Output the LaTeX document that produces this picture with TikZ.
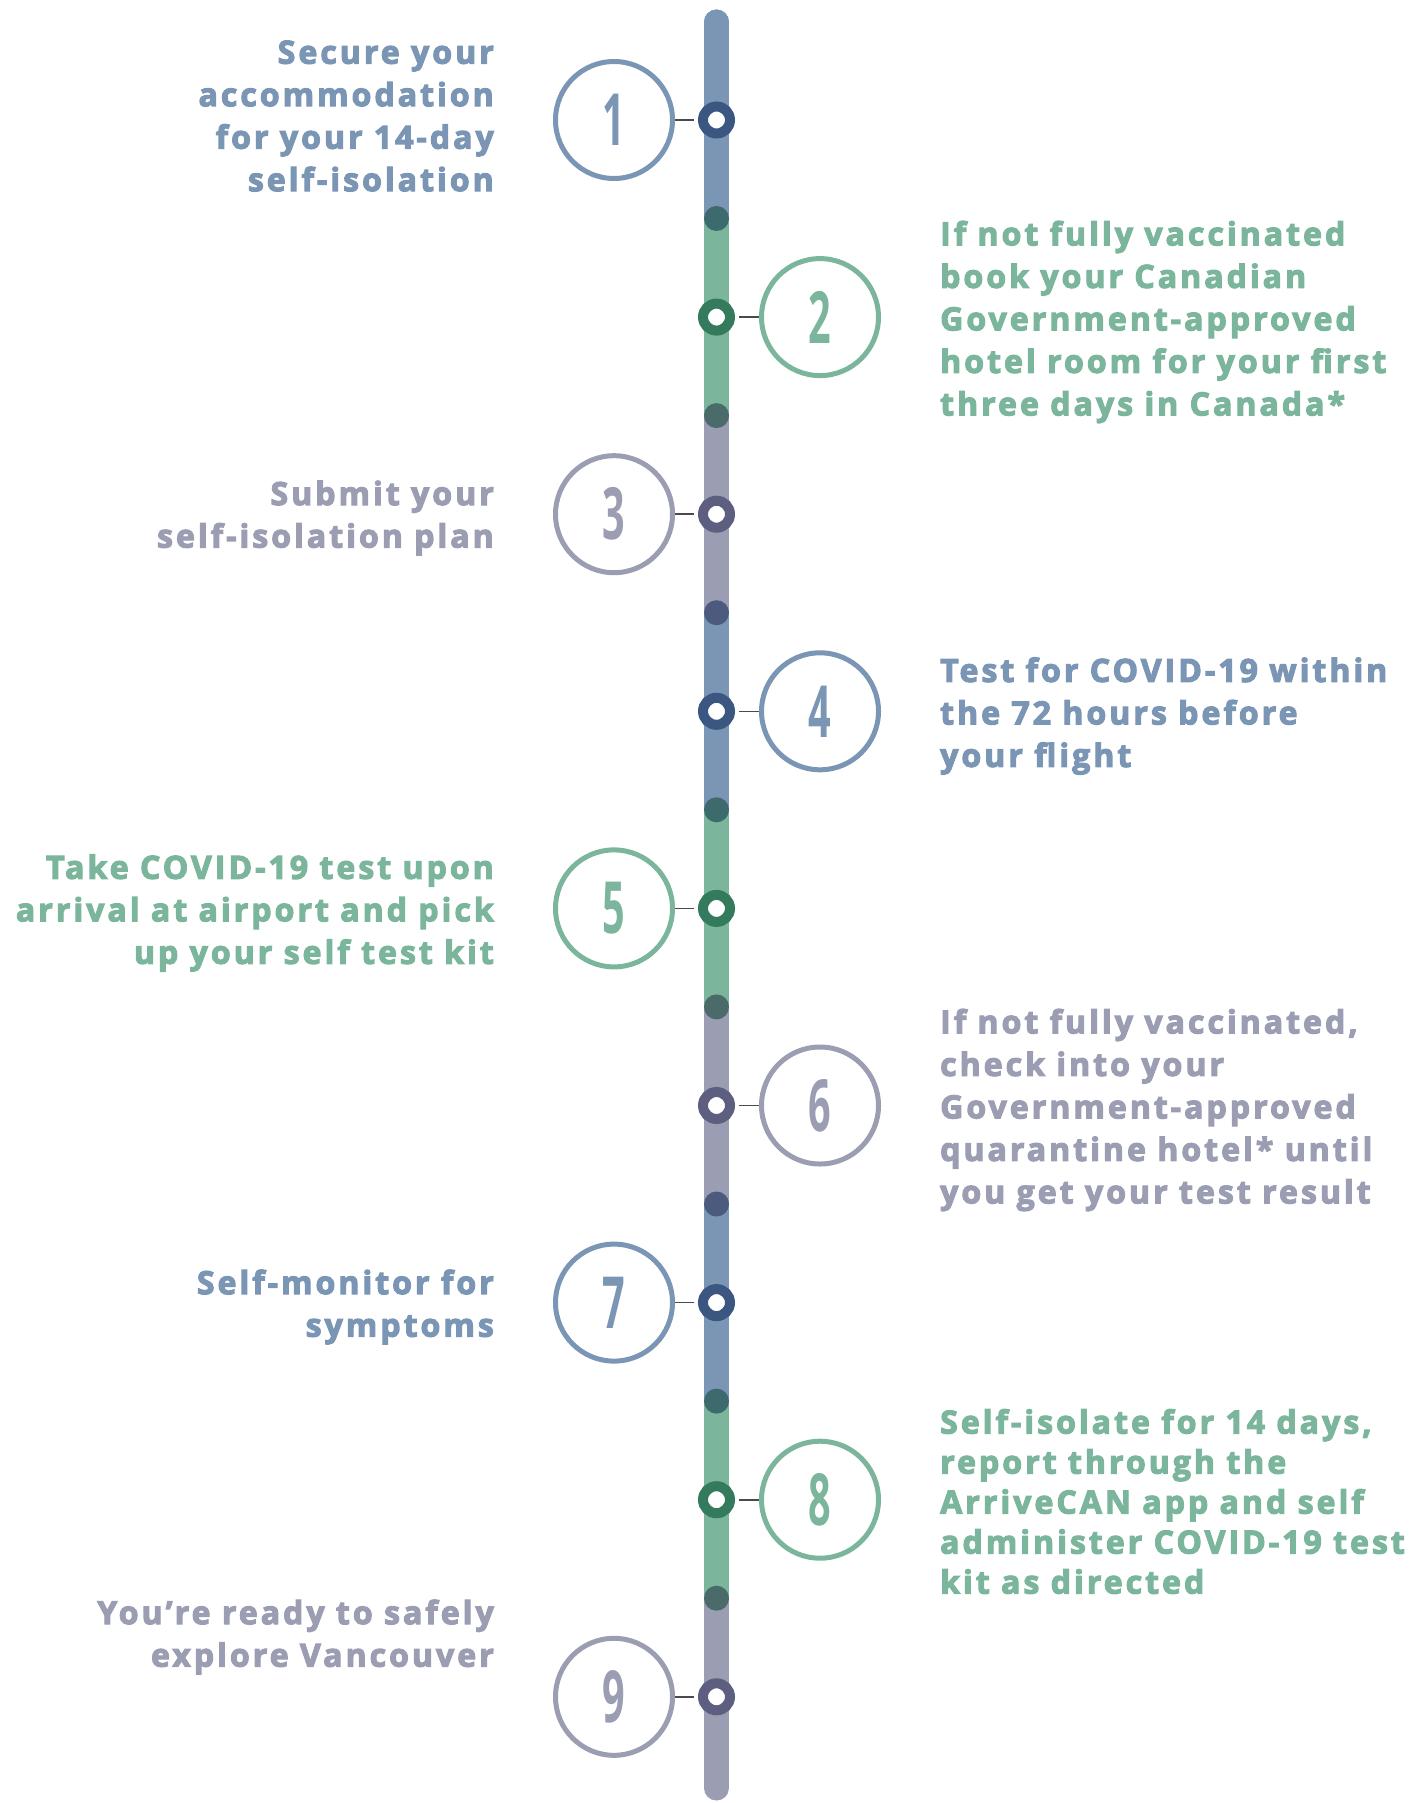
\documentclass[tikz,border=0pt]{standalone}
\usepackage{fontspec}
\newfontfamily\stepfont{Open Sans}[LetterSpace=9.5, BoldFeatures={FakeBold=3.5}]
\newfontfamily\numfont{Open Sans}
\definecolor{cblue}{HTML}{7A96B4}
\definecolor{cgreen}{HTML}{7BB59B}
\definecolor{cgray}{HTML}{9B9DB2}
\definecolor{dblue}{HTML}{3B5680}
\definecolor{dgreen}{HTML}{347A5C}
\definecolor{dgray}{HTML}{5E5F80}
\definecolor{jbg}{HTML}{3D6A6D}
\definecolor{jgg}{HTML}{4A6B6A}
\definecolor{jgb}{HTML}{4B5A7D}
\definecolor{linkgray}{HTML}{4A4A4A}
\tikzset{
  steptext/.style={text=#1, font=\stepfont\bfseries\fontsize{32}{42.5}\selectfont, inner sep=0pt},
  ring/.style={circle, draw=#1, line width=5pt, minimum size=117pt, inner sep=0pt, text=#1,
    font=\numfont\bfseries\fontsize{72}{72}\selectfont},
  dot/.style={circle, draw=#1, line width=10pt, fill=white, minimum size=27pt, inner sep=0pt},
  joint/.style={circle, fill=#1, minimum size=25pt, inner sep=0pt},
  link/.style={draw=linkgray, line width=1.6pt, shorten >=4pt},
  barseg/.style={line width=25pt, draw=#1}
}
\newcommand{\nm}[1]{\scalebox{0.55}[1]{#1}}
\begin{document}
\begin{tikzpicture}[x=1pt,y=-1pt]
\useasboundingbox (0,0) rectangle (1425,1803);
% bar
\draw[barseg=cgray, line cap=round] (716.5,22) -- (716.5,1788);
\draw[barseg=cblue, line cap=round] (716.5,22) -- (716.5,218.5);
\draw[barseg=cgreen] (716.5,218.5) -- (716.5,415.6);
\draw[barseg=cblue] (716.5,612.7) -- (716.5,809.8);
\draw[barseg=cgreen] (716.5,809.8) -- (716.5,1006.9);
\draw[barseg=cblue] (716.5,1204) -- (716.5,1401.1);
\draw[barseg=cgreen] (716.5,1401.1) -- (716.5,1598.2);
% joints
\node[joint=jbg] (j1) at (716.5,218.5) {};
\node[joint=jgg] (j2) at (716.5,415.6) {};
\node[joint=jgb] (j3) at (716.5,612.7) {};
\node[joint=jbg] (j4) at (716.5,809.8) {};
\node[joint=jgg] (j5) at (716.5,1006.9) {};
\node[joint=jgb] (j6) at (716.5,1204) {};
\node[joint=jbg] (j7) at (716.5,1401.1) {};
\node[joint=jgg] (j8) at (716.5,1598.2) {};
% step 1
\node[ring=cblue] (c1) at (614,120) {\nm{1}};
\node[dot=dblue] (d1) at (716.5,120) {};
\draw[link] (c1.east) -- (d1.west);
\node[steptext=cblue, anchor=east, align=right] (t1) at (494,116)
  {Secure your\\accommodation\\for your 14-day\\self-isolation};
% step 2
\node[ring=cgreen] (c2) at (820,317.1) {\nm{2}};
\node[dot=dgreen] (d2) at (716.5,317.1) {};
\draw[link] (c2.west) -- (d2.east);
\node[steptext=cgreen, anchor=west, align=left] (t2) at (940,322)
  {If not fully vaccinated\\book your Canadian\\Government-approved\\hotel room for your first\\three days in Canada*};
% step 3
\node[ring=cgray] (c3) at (614,514.2) {\nm{3}};
\node[dot=dgray] (d3) at (716.5,514.2) {};
\draw[link] (c3.east) -- (d3.west);
\node[steptext=cgray, anchor=east, align=right] (t3) at (494,518)
  {Submit your\\self-isolation plan};
% step 4
\node[ring=cblue] (c4) at (820,711.3) {\nm{4}};
\node[dot=dblue] (d4) at (716.5,711.3) {};
\draw[link] (c4.west) -- (d4.east);
\node[steptext=cblue, anchor=west, align=left] (t4) at (940,716)
  {Test for COVID-19 within\\the 72 hours before\\your flight};
% step 5
\node[ring=cgreen] (c5) at (614,908.4) {\nm{5}};
\node[dot=dgreen] (d5) at (716.5,908.4) {};
\draw[link] (c5.east) -- (d5.west);
\node[steptext=cgreen, anchor=east, align=right] (t5) at (494,913)
  {Take COVID-19 test upon\\arrival at airport and pick\\up your self test kit};
% step 6
\node[ring=cgray] (c6) at (820,1105.5) {\nm{6}};
\node[dot=dgray] (d6) at (716.5,1105.5) {};
\draw[link] (c6.west) -- (d6.east);
\node[steptext=cgray, anchor=west, align=left] (t6) at (940,1110)
  {If not fully vaccinated,\\check into your\\Government-approved\\quarantine hotel* until\\you get your test result};
% step 7
\node[ring=cblue] (c7) at (614,1302.6) {\nm{7}};
\node[dot=dblue] (d7) at (716.5,1302.6) {};
\draw[link] (c7.east) -- (d7.west);
\node[steptext=cblue, anchor=east, align=right] (t7) at (494,1307)
  {Self-monitor for\\symptoms};
% step 8
\node[ring=cgreen] (c8) at (820,1499.7) {\nm{8}};
\node[dot=dgreen] (d8) at (716.5,1499.7) {};
\draw[link] (c8.west) -- (d8.east);
\node[steptext=cgreen, anchor=west, align=left, font=\stepfont\bfseries\fontsize{32}{40}\selectfont] (t8) at (940,1501.5)
  {Self-isolate for 14 days,\\report through the\\ArriveCAN app and self\\administer COVID-19 test\\kit as directed};
% step 9
\node[ring=cgray] (c9) at (614,1696.8) {\nm{9}};
\node[dot=dgray] (d9) at (716.5,1696.8) {};
\draw[link] (c9.east) -- (d9.west);
\node[steptext=cgray, anchor=east, align=right] (t9) at (494,1637)
  {You’re ready to safely\\explore Vancouver};
\end{tikzpicture}
\end{document}
